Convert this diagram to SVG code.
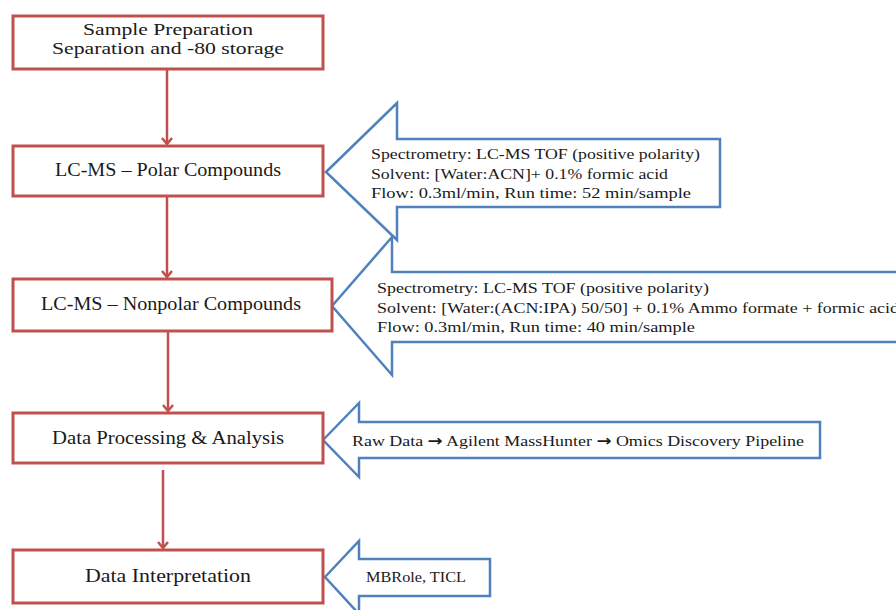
<svg xmlns="http://www.w3.org/2000/svg" width="896" height="610" viewBox="0 0 896 610">
<defs>
<marker id="ah" viewBox="0 0 12 12" refX="10" refY="6" markerWidth="12" markerHeight="12" markerUnits="userSpaceOnUse" orient="auto">
<path d="M4,1 L10,6 L4,11" fill="none" stroke="#C0504D" stroke-width="2.5"/>
</marker>
</defs>
<style>
.box{fill:#fff;stroke:#C0504D;stroke-width:3}
.call{fill:#fff;stroke:#4F81BD;stroke-width:2.5;stroke-linejoin:miter}
.bt{font-family:"Liberation Serif",serif;font-size:19px;fill:#1a1a1a;text-anchor:middle}
.ct{font-family:"Liberation Serif",serif;font-size:15px;fill:#1a1a1a}
.ar{font-family:"DejaVu Sans",sans-serif;font-weight:bold}
.conn{stroke:#C0504D;stroke-width:2.5;fill:none}
</style>
<rect width="896" height="610" fill="#fff"/>
<g id="callouts">
<g id="call1"><path class="call" d="M326,172 L397,103 L397,139 L720,139 L720,207 L397,207 L397,240 Z"/>
<text class="ct" x="371" y="159" textLength="329" lengthAdjust="spacingAndGlyphs">Spectrometry: LC-MS TOF (positive polarity)</text>
<text class="ct" x="371" y="179" textLength="297" lengthAdjust="spacingAndGlyphs">Solvent: [Water:ACN]+ 0.1% formic acid</text>
<text class="ct" x="371" y="198" textLength="320" lengthAdjust="spacingAndGlyphs">Flow: 0.3ml/min, Run time: 52 min/sample</text></g>
<g id="call2"><path class="call" d="M332,306 L392,237 L392,272 L900,272 L900,342 L392,342 L392,375 Z"/>
<text class="ct" x="377" y="293" textLength="332" lengthAdjust="spacingAndGlyphs">Spectrometry: LC-MS TOF  (positive polarity)</text>
<text class="ct" x="377" y="313" textLength="522" lengthAdjust="spacingAndGlyphs">Solvent: [Water:(ACN:IPA) 50/50] + 0.1% Ammo formate + formic acid</text>
<text class="ct" x="377" y="332" textLength="318" lengthAdjust="spacingAndGlyphs">Flow: 0.3ml/min, Run time: 40 min/sample</text></g>
<g id="call3"><path class="call" d="M323,440 L359,403 L359,422 L820,422 L820,458 L359,458 L359,477 Z"/>
<text class="ct" x="352" y="446" textLength="452" lengthAdjust="spacingAndGlyphs">Raw Data <tspan class="ar">→</tspan> Agilent MassHunter <tspan class="ar">→</tspan> Omics Discovery Pipeline</text></g>
<g id="call4"><path class="call" d="M325,577 L359,541 L359,559 L490,559 L490,596 L359,596 L359,614 Z"/>
<text class="ct" x="366" y="582" textLength="100" lengthAdjust="spacingAndGlyphs">MBRole, TICL</text></g>
</g>
<g id="connectors">
<line class="conn" x1="167" y1="70" x2="167" y2="144" marker-end="url(#ah)"/>
<line class="conn" x1="167" y1="197" x2="167" y2="277" marker-end="url(#ah)"/>
<line class="conn" x1="168" y1="332" x2="168" y2="411" marker-end="url(#ah)"/>
<line class="conn" x1="163" y1="470" x2="163" y2="548" marker-end="url(#ah)"/>
</g>
<g id="n1"><rect class="box" x="13" y="16" width="310" height="53"/>
<text class="bt" x="168" y="35" style="font-size:16.5px" textLength="170" lengthAdjust="spacingAndGlyphs">Sample Preparation</text>
<text class="bt" x="168" y="54" style="font-size:16.5px" textLength="232" lengthAdjust="spacingAndGlyphs">Separation and -80 storage</text></g>
<g id="n2"><rect class="box" x="13" y="146" width="310" height="50"/>
<text class="bt" x="168" y="176" textLength="226" lengthAdjust="spacingAndGlyphs">LC-MS – Polar Compounds</text></g>
<g id="n3"><rect class="box" x="13" y="279" width="319" height="52"/>
<text class="bt" x="171" y="310" textLength="260" lengthAdjust="spacingAndGlyphs">LC-MS – Nonpolar Compounds</text></g>
<g id="n4"><rect class="box" x="13" y="413" width="310" height="50"/>
<text class="bt" x="168" y="444" textLength="232" lengthAdjust="spacingAndGlyphs">Data Processing &amp; Analysis</text></g>
<g id="n5"><rect class="box" x="13" y="550" width="310" height="53"/>
<text class="bt" x="168" y="582" textLength="166" lengthAdjust="spacingAndGlyphs">Data Interpretation</text></g>
</svg>
